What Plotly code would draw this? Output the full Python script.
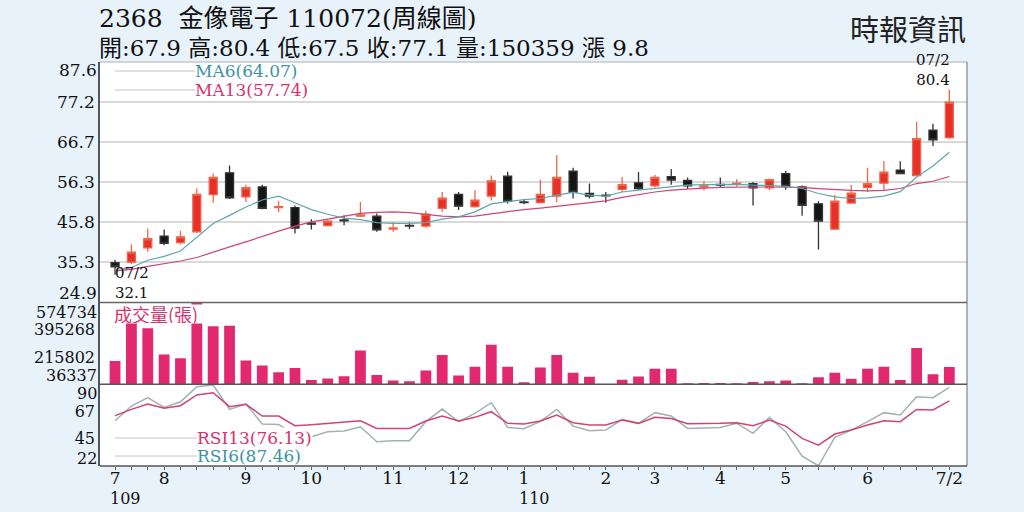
import plotly.graph_objects as go

# ---------------- data ----------------
idx = list(range(52))
opens = [35.3,35.4,39.1,42.2,40.5,43.3,53.0,58.7,52.4,55.0,49.6,49.6,45.6,44.9,46.4,47.4,47.4,44.0,45.0,44.8,
         49.4,53.1,49.9,52.6,57.8,51.1,50.9,52.6,59.1,53.3,52.9,54.4,56.1,55.3,57.7,56.7,55.0,55.7,55.8,55.9,
         54.8,58.5,55.0,50.6,44.0,50.8,54.9,56.0,59.4,58.0,69.8,67.9]
highs = [36.0,40.0,44.2,43.9,43.5,54.6,58.5,60.6,55.6,55.6,51.3,50.2,46.6,46.4,47.6,51.1,48.1,45.9,45.8,48.8,
         53.7,53.7,54.2,58.0,59.0,51.8,56.9,63.3,60.0,55.9,53.7,57.6,58.9,58.1,59.7,57.5,56.5,57.5,57.0,56.3,
         57.2,59.2,55.4,51.3,52.9,55.5,60.0,61.8,61.7,72.0,71.5,80.4]
lows = [32.1,34.9,38.1,39.8,40.0,43.0,50.9,51.9,51.1,49.2,48.5,42.9,43.9,44.7,45.0,47.2,43.3,43.3,44.0,44.4,
        48.5,49.0,49.6,51.5,50.7,50.5,50.7,51.1,52.0,52.0,50.9,53.7,54.2,54.9,55.6,54.5,54.1,54.8,55.1,50.2,
        54.2,54.3,47.5,38.7,43.8,50.6,53.7,54.3,58.3,57.8,65.7,67.5]
closes = [34.2,38.0,41.5,40.3,42.0,53.1,57.5,52.2,54.8,49.4,49.9,44.3,45.3,46.1,46.2,47.7,43.8,44.3,44.8,47.9,
          52.1,50.0,51.6,56.6,51.3,50.9,53.1,57.5,53.7,52.6,52.7,55.6,54.6,57.5,56.8,55.3,55.3,55.5,56.0,54.8,
          56.9,55.2,50.2,46.1,51.3,53.4,55.9,58.9,58.5,67.6,67.3,77.1]
ma6 = [33.5,34.0,35.9,36.9,38.3,42.0,45.5,47.6,49.8,51.6,52.6,50.9,49.1,47.9,46.9,46.5,45.7,45.5,45.5,45.7,
       46.6,47.2,48.5,50.6,51.2,51.7,52.0,52.9,53.6,52.9,52.6,53.7,54.2,54.6,55.1,55.5,55.6,55.7,55.7,55.5,
       55.3,55.2,54.6,53.3,52.4,52.0,52.15,52.6,53.8,57.6,60.5,64.07]
ma13 = [33.1,33.5,34.3,35.0,35.7,36.6,38.1,39.4,40.7,42.2,43.5,44.8,45.9,46.6,47.4,48.1,48.4,48.5,48.3,47.8,
        47.4,47.2,47.4,48.0,48.6,49.1,49.5,50.0,50.5,51.0,51.4,52.3,53.0,53.7,54.2,54.5,54.7,54.9,55.0,55.0,
        55.0,55.0,54.9,54.6,54.3,54.1,54.0,54.1,54.6,55.9,56.5,57.74]
volume = [190000,470000,405000,232000,208000,574734,418000,421000,193000,160000,116000,144000,64000,75000,90000,
          258000,97000,62000,56000,127000,229000,95000,151000,297000,151000,49000,147000,229000,112000,86000,
          36337,66000,88000,138000,138000,43000,45000,45000,43000,51000,56000,62000,43000,82000,112000,73000,
          138000,151000,64000,275000,103000,150359]
rsi6 = [59.7,71.9,78.9,70.8,75.5,88.0,89.4,69.1,73.6,56.9,56.6,47.8,46.4,50.5,51.1,54.7,42.2,43.0,43.0,58.9,
        69.4,58.9,65.8,74.7,54.1,53.0,59.2,69.1,55.2,51.4,51.9,60.8,57.5,66.4,63.6,53.3,53.6,54.1,57.5,49.2,
        62.5,50.5,30.2,22.2,45.8,51.9,58.9,66.4,64.4,79.7,78.9,87.46]
rsi13 = [63.9,69.1,73.6,70.0,72.2,81.1,83.0,71.4,73.3,63.6,63.6,55.5,56.4,57.5,58.0,59.7,53.3,53.3,53.3,59.4,
         63.6,59.4,62.5,67.2,57.5,56.9,59.4,64.4,58.0,56.1,56.1,60.2,57.5,62.5,61.6,57.2,57.2,57.5,58.0,55.5,
         60.2,55.2,45.0,39.4,48.6,51.9,56.1,59.7,58.9,69.1,68.6,76.13]

price_ticks = [24.9, 35.35, 45.8, 56.25, 66.7, 77.15, 87.6]
price_labels = ["24.9", "35.3", "45.8", "56.3", "66.7", "77.2", "87.6"]
vol_ticks = [36337, 215802, 395268, 574734]
vol_labels = ["36337", "215802", "395268", "574734"]
rsi_ticks = [22, 44.67, 67.33, 90]
rsi_labels = ["22", "45", "67", "90"]
month_pos = [0, 3, 8, 12, 17, 21, 25, 30, 33, 37, 41, 46, 51]
month_labels = ["7", "8", "9", "10", "11", "12", "1", "2", "3", "4", "5", "6", "7/2"]
year_pos = [0, 25]
year_labels = ["109", "110"]
first_date, last_date = "07/2", "07/2"

title1 = "2368\u00a0\u00a0金像電子 110072(周線圖)"
title2 = "開:67.9 高:80.4 低:67.5 收:77.1 量:150359 漲 9.8"
source = "時報資訊"

# ---------------- styling ----------------
BG = "#e8f2fa"
SERIF = "DejaVu Serif, Noto Sans CJK TC, serif"
CJK = "Noto Sans CJK TC, DejaVu Serif"
RED = "#e8302a"
RED_WICK = "#ee6648"
BLACK = "#151515"
TEAL_TXT = "#3e93a3"
TEAL_LINE = "#5fa7ae"
PINK_TXT = "#d8336c"
PINK_LINE = "#cf4479"
RSI6_LINE = "#a2b2b1"
VOL = "#e2286f"

L, R, T, B = 100, 57, 62, 46
W, H = 1024, 512
PW, PH = W - L - R, H - T - B

def px(xp):
    return (xp - L) / PW

def py(yp):
    return (H - B - yp) / PH

d_rsi = [0, py(384.3)]
d_vol = [py(384.3), py(302.4)]
d_price = [py(302.4), 1]
xr = [-0.92, 52.08]

fig = go.Figure()

fig.add_trace(go.Candlestick(
    x=idx, open=opens, high=highs, low=lows, close=closes,
    increasing=dict(line=dict(color=RED_WICK, width=1.3), fillcolor=RED),
    decreasing=dict(line=dict(color="#333333", width=1.3), fillcolor=BLACK),
    xaxis="x", yaxis="y", showlegend=False, hoverinfo="skip"))
fig.add_trace(go.Scatter(x=idx, y=ma13, mode="lines", line=dict(color=PINK_LINE, width=1.2),
                         xaxis="x", yaxis="y", showlegend=False, hoverinfo="skip"))
fig.add_trace(go.Scatter(x=idx, y=ma6, mode="lines", line=dict(color=TEAL_LINE, width=1.2),
                         xaxis="x", yaxis="y", showlegend=False, hoverinfo="skip"))

fig.add_trace(go.Bar(x=idx, y=volume, marker=dict(color=VOL, line=dict(width=0)), width=0.66,
                     xaxis="x2", yaxis="y2", showlegend=False, hoverinfo="skip"))

fig.add_trace(go.Scatter(x=idx, y=rsi6, mode="lines", line=dict(color=RSI6_LINE, width=1.5),
                         xaxis="x3", yaxis="y3", showlegend=False, hoverinfo="skip"))
fig.add_trace(go.Scatter(x=idx, y=rsi13, mode="lines", line=dict(color=PINK_LINE, width=1.5),
                         xaxis="x3", yaxis="y3", showlegend=False, hoverinfo="skip"))

xcommon = dict(range=xr, showgrid=False, zeroline=False, fixedrange=True)
yfont = dict(family=SERIF, size=17, color="#111")
vfont = dict(family=SERIF, size=16, color="#111")
rfont = dict(family=SERIF, size=16, color="#111")

fig.update_layout(
    width=W, height=H, autosize=False,
    margin=dict(l=L, r=R, t=T, b=B),
    paper_bgcolor=BG, plot_bgcolor="white",
    font=dict(family=SERIF, color="#111"),
    boxgap=0.3,
    xaxis=dict(domain=[0, 1], anchor="y", showticklabels=False, rangeslider=dict(visible=False), **xcommon),
    xaxis2=dict(domain=[0, 1], anchor="y2", matches="x", showticklabels=False, **xcommon),
    xaxis3=dict(domain=[0, 1], anchor="y3", matches="x", tickmode="array", tickvals=idx,
                ticktext=[month_labels[month_pos.index(i)] if i in month_pos else "" for i in idx],
                ticks="outside", ticklen=3, tickcolor="#666", tickwidth=1, ticklabelstandoff=-6,
                tickfont=dict(family=SERIF, size=17, color="#111"), **xcommon),
    yaxis=dict(domain=d_price, anchor="x", range=[price_ticks[0], price_ticks[-1]],
               tickmode="array", tickvals=price_ticks[1:-1], ticktext=price_labels[1:-1],
               showgrid=True, gridcolor="#d9d9d9", gridwidth=1.5, zeroline=False,
               showline=True, linecolor="#555", linewidth=1.5, ticks="", tickfont=yfont, fixedrange=True),
    yaxis2=dict(domain=d_vol, anchor="x2", range=[vol_ticks[0], vol_ticks[-1]],
                tickmode="array", tickvals=vol_ticks[1:-1], ticktext=vol_labels[1:-1],
                showgrid=False, zeroline=False, showline=True, linecolor="#555", linewidth=1.5,
                ticks="", tickfont=vfont, fixedrange=True),
    yaxis3=dict(domain=d_rsi, anchor="x3", range=[rsi_ticks[0], rsi_ticks[-1]],
                tickmode="array", tickvals=rsi_ticks[1:-1], ticktext=rsi_labels[1:-1],
                showgrid=False, zeroline=False, showline=True, linecolor="#555", linewidth=1.5,
                ticks="", tickfont=rfont, fixedrange=True),
)

shapes = []
# frame / panel separators
shapes.append(dict(type="line", xref="paper", yref="paper", x0=0, x1=1, y0=1, y1=1,
                   line=dict(color="#c9c9c9", width=1.5)))
shapes.append(dict(type="line", xref="paper", yref="paper", x0=1, x1=1, y0=0, y1=1,
                   line=dict(color="#9a9a9a", width=1.5)))
for yy, c in [(d_vol[1], "#666"), (d_rsi[1], "#555"), (0, "#555")]:
    shapes.append(dict(type="line", xref="paper", yref="paper", x0=0, x1=1, y0=yy, y1=yy,
                       line=dict(color=c, width=1.5)))
# legend guide lines
MA6_Y, MA13_Y, RSI13_Y, RSI6_Y = 71, 90, 438, 456
for yl, x1 in [(MA6_Y, 195), (MA13_Y, 195), (RSI13_Y, 197), (RSI6_Y, 197)]:
    shapes.append(dict(type="line", xref="paper", yref="paper", x0=px(115), x1=px(x1),
                       y0=py(yl), y1=py(yl), line=dict(color="#c4c4c4", width=1)))
fig.update_layout(shapes=shapes)

ann = []
# header
ann.append(dict(text=title1, xref="paper", yref="paper", x=px(98), y=py(19), xanchor="left", yanchor="middle",
                showarrow=False, borderpad=0, font=dict(family=SERIF, size=25, color="#111")))
ann.append(dict(text=title2, xref="paper", yref="paper", x=px(98), y=py(48), xanchor="left", yanchor="middle",
                showarrow=False, borderpad=0, font=dict(family=SERIF, size=23, color="#111")))
ann.append(dict(text=source, xref="paper", yref="paper", x=px(967), y=py(28), xanchor="right", yanchor="middle",
                showarrow=False, borderpad=0, font=dict(family=CJK, size=29, color="#222")))
# legends
ann.append(dict(text="MA6(64.07)", xref="paper", yref="paper", x=px(194), y=py(MA6_Y), xanchor="left",
                yanchor="middle", showarrow=False, borderpad=0, font=dict(family=SERIF, size=17, color=TEAL_TXT)))
ann.append(dict(text="MA13(57.74)", xref="paper", yref="paper", x=px(194), y=py(MA13_Y), xanchor="left",
                yanchor="middle", showarrow=False, borderpad=0, font=dict(family=SERIF, size=17, color=PINK_TXT)))
ann.append(dict(text="成交量(張)", xref="paper", yref="paper", x=px(113), y=py(304), xanchor="left",
                yanchor="top", showarrow=False, bgcolor="white", borderpad=0, width=128, height=18,
                align="left", valign="middle",
                font=dict(family=CJK, size=18, color=PINK_TXT)))
ann.append(dict(text="RSI13(76.13)", xref="paper", yref="paper", x=px(196), y=py(RSI13_Y), xanchor="left",
                yanchor="middle", showarrow=False, bgcolor="white", borderpad=0,
                font=dict(family=SERIF, size=17, color=PINK_TXT)))
ann.append(dict(text="RSI6(87.46)", xref="paper", yref="paper", x=px(196), y=py(RSI6_Y), xanchor="left",
                yanchor="middle", showarrow=False, borderpad=0,
                font=dict(family=SERIF, size=17, color=TEAL_TXT)))
# first / last week marks
mfont = dict(family=SERIF, size=15, color="#111")
ann.append(dict(text="%s<br>%.1f" % (last_date, highs[-1]), xref="x", yref="y", x=idx[-1], y=highs[-1],
                xanchor="right", yanchor="bottom", xshift=2, yshift=0, showarrow=False, align="right",
                borderpad=0, font=mfont))
ann.append(dict(text="%s<br>%.1f" % (first_date, lows[0]), xref="x", yref="y", x=idx[0], y=lows[0],
                xanchor="left", yanchor="bottom", xshift=-1, yshift=-28, showarrow=False, align="left",
                borderpad=0, font=mfont))
# end labels of the y axes (shifted inside like the reference)
for axis, val, lab, shift, f in [("y", price_ticks[-1], price_labels[-1], -8, yfont),
                                 ("y", price_ticks[0], price_labels[0], 9, yfont),
                                 ("y2", vol_ticks[-1], vol_labels[-1], -10, vfont),
                                 ("y2", vol_ticks[0], vol_labels[0], 9, vfont),
                                 ("y3", rsi_ticks[-1], rsi_labels[-1], -9, rfont),
                                 ("y3", rsi_ticks[0], rsi_labels[0], 8, rfont)]:
    ann.append(dict(text=lab, xref="paper", yref=axis, x=0, y=val, xanchor="right", yanchor="middle",
                    xshift=-2, yshift=shift, showarrow=False, borderpad=0, font=f))
# year labels
for p, lab in zip(year_pos, year_labels):
    ann.append(dict(text=lab, xref="x3", yref="paper", x=p, y=py(498), xanchor="left", yanchor="middle",
                    xshift=-6, showarrow=False, borderpad=0, font=dict(family=SERIF, size=16, color="#111")))
fig.update_layout(annotations=ann)

fig.write_html("out.html", config={"displayModeBar": False},
               post_script="document.body.style.margin='0';document.body.style.background='%s';" % BG)
